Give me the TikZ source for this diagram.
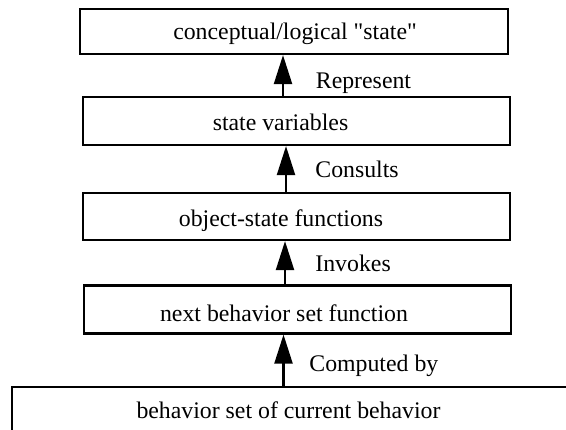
\documentclass[tikz,border=0pt]{standalone}
\usepackage{fontspec}
\setmainfont{Liberation Serif}[Ligatures=TeXOff]
\usetikzlibrary{arrows.meta}
\begin{document}
\begin{tikzpicture}[x=0.5pt,y=-0.5pt,
  box/.style={draw,line width=1.1pt,rectangle,inner sep=0pt,fill=none},
  boxtext/.style={anchor=base,inner sep=0pt,font=\fontsize{11.9}{14}\selectfont},
  lbl/.style={anchor=base west,inner sep=0pt,font=\fontsize{11.9}{14}\selectfont},
  arr/.style={line width=1.1pt,-{Triangle[length=14.5pt,width=9pt]}}]
\useasboundingbox (0,0) rectangle (566,429);
\clip (0,0) rectangle (566,429);
% boxes
\node[box,minimum width=214pt,minimum height=22.5pt] (b1) at (294,31.5) {};
\node[box,minimum width=213.5pt,minimum height=24pt] (b2) at (296.5,121) {};
\node[box,minimum width=213.5pt,minimum height=23.5pt] (b3) at (296.5,216.5) {};
\node[box,minimum width=213.5pt,minimum height=24pt] (b4) at (297.5,309.5) {};
\node[box,minimum width=285pt,minimum height=30pt] (b5) at (297,417) {};
% box texts
\node[boxtext] (t1) at (295,39.3) {conceptual/logical "state"};
\node[boxtext] (t2) at (280.5,130) {state variables};
\node[boxtext] (t3) at (281,226) {object-state functions};
\node[boxtext] (t4) at (284,321.7) {next behavior set function};
\node[boxtext] (t5) at (288.5,418) {behavior set of current behavior};
% connectors
\draw[arr] ([xshift=-6.75pt]b2.north) -- ([xshift=-6.75pt]b2.north |- b1.south);
\draw[arr] ([xshift=-5.25pt]b3.north) -- ([xshift=-5.25pt]b3.north |- b2.south);
\draw[arr] ([xshift=-6.25pt]b4.north) -- ([xshift=-6.25pt]b4.north |- b3.south);
\draw[arr] ([xshift=-6.75pt]b5.north) -- ([xshift=-6.75pt]b5.north |- b4.south);
% labels
\node[lbl] (l1) at (315.5,88) {Represent};
\node[lbl] (l2) at (315,177) {Consults};
\node[lbl] (l3) at (315,271.5) {Invokes};
\node[lbl] (l4) at (309,371) {Computed by};
\end{tikzpicture}
\end{document}
